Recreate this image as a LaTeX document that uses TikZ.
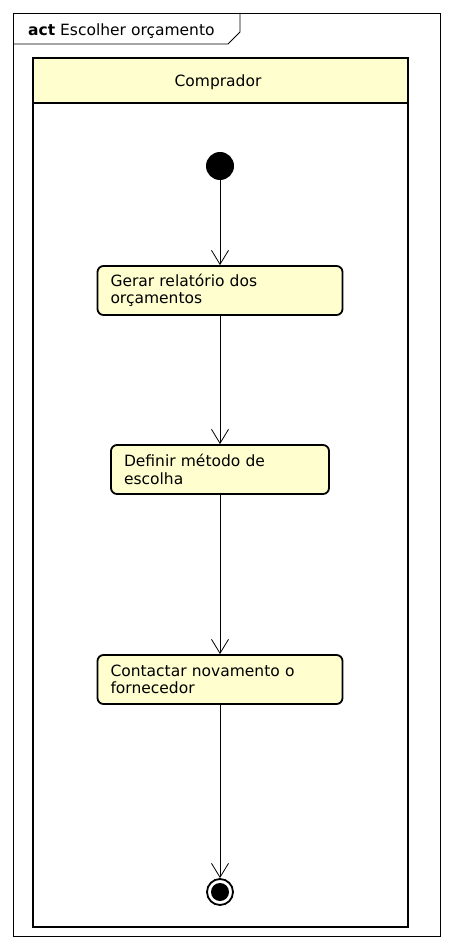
\documentclass[tikz,border=0pt]{standalone}
\usepackage{fontspec}
\setmainfont{DejaVu Sans}
\usetikzlibrary{arrows.meta}
\definecolor{umlyellow}{HTML}{FEFECE}

\begin{document}
\begin{tikzpicture}[x=1pt,y=-1pt,>={Straight Barb[length=14pt,width=17pt]},
  act/.style={draw,line width=1.8pt,rounded corners=6pt,fill=umlyellow,
    minimum height=49pt,align=left,inner xsep=13pt,
    font=\fontsize{15.5}{17.5}\selectfont},
  flow/.style={->,line width=0.8pt}]
\useasboundingbox (0,0) rectangle (453,949);
% frame and its tab
\draw[line width=0.9pt] (13,13) rectangle (440,936);
\draw[line width=0.9pt] (13,44) -- (228,44) -- (240,32) -- (240,13);
\node[anchor=base west,inner sep=0,font=\fontsize{15.5}{17.5}\selectfont]
  (title) at (28,36) {\textbf{act} Escolher orçamento};
% swimlane
\draw[line width=1.8pt,fill=umlyellow] (33,58) rectangle (408,103);
\draw[line width=1.8pt] (33,103) rectangle (408,927);
\node[font=\fontsize{15.5}{17.5}\selectfont] (lane) at (218,82) {Comprador};
% actions
\node[circle,fill,minimum size=28pt,inner sep=0] (start) at (220,166) {};
\node[act,text width=219pt] (gerar) at (220,290.5)
  {Gerar relatório dos\\orçamentos};
\node[act,text width=192pt] (definir) at (220,469.5)
  {Definir método de\\escolha};
\node[act,text width=219pt] (contactar) at (220,679.5)
  {Contactar novamento o\\fornecedor};
\node[circle,draw,line width=1.8pt,minimum size=26pt,inner sep=0] (stop) at (220,892) {};
\fill (stop.center) circle (9pt);
% flows
\draw[flow] (start) -- (gerar);
\draw[flow] (gerar) -- (definir);
\draw[flow] (definir) -- (contactar);
\draw[flow] (contactar) -- (stop);
\end{tikzpicture}
\end{document}
